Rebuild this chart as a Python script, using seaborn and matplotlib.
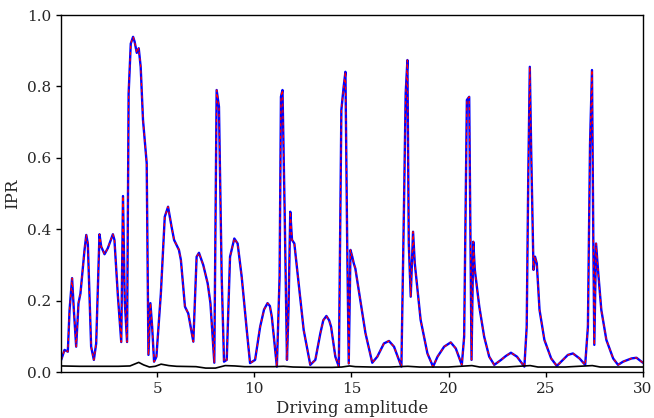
import numpy as np
import pandas as pd
import matplotlib
matplotlib.use("Agg")
import matplotlib.pyplot as plt
import seaborn as sns

amp = [0.06,0.23,0.4,0.49,0.62,0.71,0.83,0.95,1.05,1.26,1.35,1.43,1.6,1.74,1.86,2.03,2.12,2.29,2.46,2.72,2.8,2.98,3.15,3.24,3.33,3.45,3.53,3.64,3.76,3.84,3.95,4.05,4.15,4.27,4.39,4.46,4.55,4.65,4.74,4.84,4.96,5.19,5.39,5.56,5.74,5.87,6.12,6.22,6.43,6.6,6.86,7.03,7.15,7.37,7.6,7.74,7.94,8.06,8.18,8.32,8.44,8.58,8.75,8.97,9.14,9.35,9.61,9.78,10.04,10.3,10.5,10.68,10.8,10.9,11.0,11.16,11.3,11.37,11.45,11.56,11.68,11.76,11.85,11.94,12.06,12.28,12.54,12.88,13.14,13.4,13.55,13.71,13.85,13.95,14.1,14.17,14.35,14.48,14.6,14.69,14.78,14.86,14.95,15.04,15.12,15.2,15.46,15.72,16.07,16.33,16.67,16.93,17.19,17.57,17.7,17.79,17.88,17.95,18.05,18.17,18.26,18.56,18.91,19.2,19.43,19.77,20.11,20.37,20.68,20.8,20.94,21.06,21.11,21.18,21.27,21.35,21.58,21.83,22.09,22.35,22.7,22.95,23.21,23.52,23.9,24.02,24.1,24.18,24.25,24.37,24.45,24.54,24.68,24.93,25.28,25.57,25.88,26.14,26.4,26.74,27.03,27.17,27.28,27.38,27.45,27.5,27.59,27.69,27.86,28.12,28.47,28.72,28.98,29.41,29.67,30.0]
ipr = [0.034,0.062,0.057,0.174,0.263,0.174,0.071,0.193,0.22,0.342,0.384,0.36,0.071,0.034,0.08,0.386,0.351,0.33,0.347,0.386,0.37,0.211,0.084,0.493,0.2,0.084,0.78,0.92,0.939,0.925,0.894,0.907,0.855,0.706,0.631,0.585,0.048,0.193,0.127,0.029,0.043,0.221,0.435,0.463,0.407,0.37,0.342,0.314,0.183,0.164,0.085,0.323,0.334,0.3,0.248,0.193,0.026,0.79,0.743,0.267,0.029,0.034,0.323,0.374,0.36,0.267,0.118,0.025,0.034,0.127,0.175,0.193,0.185,0.155,0.1,0.015,0.267,0.771,0.79,0.454,0.034,0.174,0.449,0.37,0.36,0.248,0.118,0.02,0.034,0.109,0.145,0.157,0.145,0.127,0.07,0.043,0.015,0.734,0.8,0.841,0.36,0.024,0.342,0.323,0.304,0.29,0.2,0.109,0.026,0.043,0.08,0.087,0.071,0.015,0.454,0.78,0.874,0.36,0.211,0.393,0.304,0.146,0.052,0.015,0.043,0.071,0.083,0.066,0.02,0.099,0.762,0.771,0.454,0.034,0.365,0.286,0.183,0.099,0.043,0.02,0.034,0.045,0.054,0.043,0.015,0.127,0.547,0.855,0.622,0.286,0.323,0.304,0.174,0.09,0.038,0.017,0.034,0.048,0.052,0.038,0.02,0.127,0.64,0.846,0.36,0.076,0.36,0.286,0.174,0.09,0.038,0.02,0.029,0.038,0.04,0.026]

amp_ref = [0.06,1.0,2.0,3.0,3.6,4.05,4.3,4.6,4.9,5.2,5.6,6.0,7.0,7.5,8.0,8.5,9.0,9.5,10.0,11.0,11.5,12.0,13.0,14.0,14.5,14.9,15.2,16.0,17.0,17.9,18.5,20.0,21.2,21.6,23.0,24.2,24.6,26.0,27.4,27.8,30.0]
ipr_ref = [0.017,0.016,0.016,0.016,0.017,0.027,0.02,0.014,0.016,0.022,0.018,0.016,0.015,0.011,0.011,0.018,0.017,0.015,0.015,0.015,0.016,0.014,0.013,0.013,0.014,0.017,0.015,0.014,0.014,0.016,0.014,0.014,0.018,0.014,0.014,0.018,0.014,0.014,0.018,0.014,0.014]

sns.set_theme(style="ticks")
plt.rcParams["font.family"] = ["DejaVu Serif"]

df = pd.DataFrame({"amp": amp, "ipr": ipr})
dref = pd.DataFrame({"amp": amp_ref, "ipr": ipr_ref})

fig = plt.figure(figsize=(6.54, 4.18), dpi=100)
ax = fig.add_axes([0.0933, 0.110, 0.8897, 0.854])
sns.lineplot(data=df, x="amp", y="ipr", ax=ax, color="blue", lw=1.7, sort=False, estimator=None)
sns.lineplot(data=df, x="amp", y="ipr", ax=ax, color="red", lw=0.9, dashes=False, sort=False, estimator=None)
ax.lines[-1].set_dashes((2.5, 2.5))
sns.lineplot(data=dref, x="amp", y="ipr", ax=ax, color="black", lw=1.2, sort=False, estimator=None)

ax.set_xlim(0.05, 30)
ax.set_ylim(0, 1.0)
ax.set_xticks([5, 10, 15, 20, 25, 30])
ax.set_yticks([0.0, 0.2, 0.4, 0.6, 0.8, 1.0])
ax.set_xlabel("Driving amplitude", fontsize=12, labelpad=3)
ax.set_ylabel("IPR", fontsize=12, labelpad=4)
ax.tick_params(labelsize=11, direction="out", length=3.5, width=1, pad=3.5, color="black")
for s in ax.spines.values():
    s.set_color("black")
    s.set_linewidth(1)

fig.savefig("out.png", dpi=100)
